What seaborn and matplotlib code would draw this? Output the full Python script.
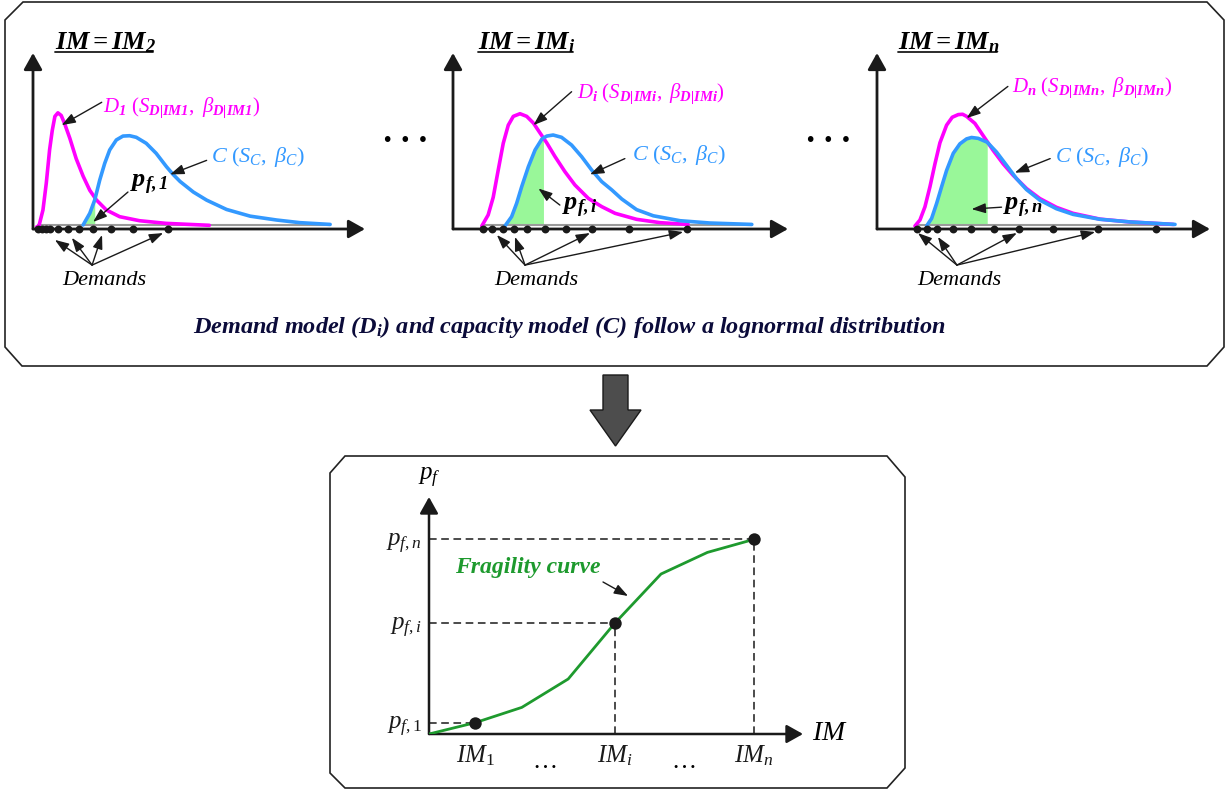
import numpy as np
import matplotlib
matplotlib.use("Agg")
import matplotlib.pyplot as plt
import seaborn as sns
from matplotlib.patches import Polygon

# ---- values (x: demand axis 0..10, y: density 0..1) ----
d1_x = [0.11, 0.18, 0.30, 0.40, 0.50, 0.58, 0.66, 0.75, 0.85, 0.95, 1.11, 1.30, 1.51, 1.71, 1.91, 2.21, 2.61, 3.21, 4.01, 5.31]
d1_y = [0.012, 0.018, 0.108, 0.26, 0.45, 0.56, 0.64, 0.66, 0.645, 0.60, 0.515, 0.40, 0.30, 0.22, 0.165, 0.108, 0.07, 0.047, 0.032, 0.021]
c1_x = [1.51, 1.71, 1.86, 2.01, 2.16, 2.31, 2.51, 2.71, 2.91, 3.11, 3.41, 3.71, 4.02, 4.22, 4.43, 4.83, 5.23, 5.83, 6.54, 7.34, 8.04, 8.95]
c1_y = [0.023, 0.089, 0.165, 0.278, 0.373, 0.449, 0.506, 0.528, 0.53, 0.521, 0.487, 0.43, 0.354, 0.31, 0.27, 0.21, 0.164, 0.111, 0.073, 0.051, 0.036, 0.026]

di_x = [0.86, 1.05, 1.20, 1.35, 1.50, 1.65, 1.80, 2.00, 2.20, 2.40, 2.60, 2.80, 3.04, 3.34, 3.64, 4.04, 4.44, 4.84, 5.48, 6.18, 7.02]
di_y = [0.017, 0.080, 0.18, 0.335, 0.487, 0.59, 0.64, 0.655, 0.64, 0.602, 0.545, 0.489, 0.413, 0.326, 0.25, 0.174, 0.127, 0.089, 0.055, 0.036, 0.026]
ci_x = [1.55, 1.75, 1.90, 2.05, 2.25, 2.45, 2.65, 2.70, 2.80, 2.99, 3.24, 3.54, 3.84, 4.14, 4.44, 4.74, 5.04, 5.48, 5.98, 6.78, 7.67, 8.92]
ci_y = [0.017, 0.070, 0.146, 0.24, 0.354, 0.449, 0.51, 0.517, 0.528, 0.534, 0.521, 0.477, 0.411, 0.335, 0.269, 0.222, 0.17, 0.11, 0.075, 0.047, 0.034, 0.026]

dn_x = [1.14, 1.29, 1.44, 1.59, 1.74, 1.89, 2.09, 2.26, 2.44, 2.57, 2.69, 2.94, 3.19, 3.49, 3.79, 4.09, 4.49, 4.89, 5.39, 5.89, 6.70, 7.60, 8.90]
dn_y = [0.017, 0.051, 0.126, 0.24, 0.37, 0.49, 0.59, 0.635, 0.65, 0.652, 0.64, 0.60, 0.53, 0.446, 0.37, 0.305, 0.23, 0.173, 0.123, 0.089, 0.056, 0.040, 0.026]
cn_x = [1.49, 1.64, 1.79, 1.94, 2.09, 2.29, 2.49, 2.69, 2.84, 3.04, 3.31, 3.59, 3.89, 4.19, 4.49, 4.89, 5.39, 5.89, 6.70, 7.60, 8.95]
cn_y = [0.017, 0.06, 0.145, 0.24, 0.333, 0.43, 0.484, 0.512, 0.52, 0.515, 0.493, 0.437, 0.362, 0.286, 0.224, 0.164, 0.115, 0.083, 0.055, 0.040, 0.026]

demands_1 = [0.15, 0.27, 0.39, 0.51, 0.75, 1.05, 1.39, 1.81, 2.35, 3.01, 4.07]
demands_i = [0.90, 1.16, 1.49, 1.82, 2.21, 2.75, 3.37, 4.15, 5.25, 6.99]
demands_n = [1.20, 1.50, 1.80, 2.28, 2.82, 3.51, 4.26, 5.29, 6.64, 8.38]
pf_edges = [1.86, 2.70, 3.31]

im_subs = ["2", "i", "n"]
case_subs = ["1", "i", "n"]

# fragility curve (IM in tick steps, pf as fraction)
frag_im = [0, 1, 2, 3, 4, 5, 6, 7]
frag_pf = [0.0, 0.057, 0.133, 0.275, 0.553, 0.80, 0.908, 0.973]
frag_marked = [1, 4, 7]
frag_ylabels = ["$p_{f,1}$", "$p_{f,i}$", "$p_{f,n}$"]
frag_xlabels = ["$IM_1$", "", "", "$IM_i$", "", "", "$IM_n$"]

# ---- style ----
sns.set_theme(style="white")
plt.rcParams["font.family"] = ["Liberation Serif", "DejaVu Sans"]
plt.rcParams["text.color"] = "black"
plt.rcParams["mathtext.fontset"] = "custom"
plt.rcParams["mathtext.rm"] = "Liberation Serif"
plt.rcParams["mathtext.it"] = "Liberation Serif:italic"
plt.rcParams["mathtext.bf"] = "Liberation Serif:italic:bold"

MAGENTA = "#ff00ff"
BLUE = "#3399ff"
FILL = "#99f799"
GREEN = "#1e9a2e"
NAVY = "#0b0b3a"
W, H = 1225, 790

fig = plt.figure(figsize=(12.25, 7.9), dpi=100)


def px_axes(x0, y0, x1, y1):
    ax = fig.add_axes([x0 / W, 1 - y1 / H, (x1 - x0) / W, (y1 - y0) / H])
    ax.set_facecolor("none")
    return ax


def axis_arrows(ax, lw=2.0, ms=20):
    style = "-|>,head_length=0.5,head_width=0.28"
    for tip in [(1, 0), (0, 1)]:
        ax.annotate("", xy=tip, xytext=(0, 0), xycoords="axes fraction",
                    arrowprops=dict(arrowstyle=style, color="k", lw=lw,
                                    shrinkA=0, shrinkB=0, mutation_scale=ms))


def small_arrow(ax, src, dst, lw=1.0):
    ax.annotate("", xy=dst, xytext=src, annotation_clip=False,
                arrowprops=dict(arrowstyle="-|>,head_length=0.7,head_width=0.25",
                                color="k", lw=lw, shrinkA=0, shrinkB=0, mutation_scale=12))


# background: frames, big arrow, notes
bg = fig.add_axes([0, 0, 1, 1])
bg.set_xlim(0, W)
bg.set_ylim(H, 0)
bg.axis("off")
bg.add_patch(Polygon([(23, 2), (1207, 2), (1224, 20), (1224, 347), (1207, 366),
                      (22, 366), (5, 347), (5, 20)], closed=True, fill=False,
                     ec="#222222", lw=1.2))
bg.add_patch(Polygon([(345, 456), (887, 456), (905, 477), (905, 768), (887, 788),
                      (345, 788), (330, 773), (330, 473)], closed=True, fill=False,
                     ec="#222222", lw=1.2))
bg.add_patch(Polygon([(603, 375), (628, 375), (628, 410), (641, 410), (615.5, 446),
                      (590, 410), (603, 410)], closed=True, fc="#4d4d4d", ec="k", lw=1))
for xc in [405, 828]:
    bg.text(xc, 140, "• • •", ha="center", va="center", fontsize=14, family="DejaVu Sans")
bg.text(569, 327, r"Demand model (D$_{\mathbf{i}}$) and capacity model (C) follow a lognormal distribution",
        ha="center", va="center", fontsize=17.5, fontweight="bold", style="italic", color=NAVY)

# ---- three demand / capacity panels ----
panel_px = [(33, 53, 365, 229), (453, 53, 788, 229), (877, 53, 1210, 229)]
curves = [(d1_x, d1_y, c1_x, c1_y), (di_x, di_y, ci_x, ci_y), (dn_x, dn_y, cn_x, cn_y)]
demands = [demands_1, demands_i, demands_n]
layout = [
    dict(tx=0.66, dl=(2.11, 0.69), da=((2.07, 0.72), (0.86, 0.59)),
         cl=(5.36, 0.41), ca=((5.23, 0.39), (4.13, 0.31)),
         pl=(2.92, 0.25), pa=((2.86, 0.21), (1.81, 0.04)),
         src=(1.78, -0.205), tgt=[(0.66, -0.062), (1.17, -0.05), (2.08, -0.034), (3.92, -0.023)],
         dt=(2.15, -0.29)),
    dict(tx=0.75, dl=(3.70, 0.77), da=((3.54, 0.78), (2.40, 0.59)),
         cl=(5.34, 0.42), ca=((5.13, 0.40), (4.09, 0.31)),
         pl=(3.25, 0.12), pa=((3.19, 0.136), (2.55, 0.23)),
         src=(2.15, -0.205), tgt=[(1.31, -0.034), (1.85, -0.045), (4.09, -0.023), (6.87, -0.017)],
         dt=(2.48, -0.29)),
    dict(tx=0.63, dl=(4.05, 0.80), da=((3.93, 0.81), (2.69, 0.63)),
         cl=(5.35, 0.41), ca=((5.20, 0.40), (4.14, 0.32)),
         pl=(3.78, 0.12), pa=((3.74, 0.124), (2.84, 0.113)),
         src=(2.40, -0.205), tgt=[(1.23, -0.023), (1.83, -0.045), (4.20, -0.023), (6.55, -0.017)],
         dt=(2.46, -0.29)),
]

titles = []
for k in range(3):
    ax = px_axes(*panel_px[k])
    ax.set_xlim(0, 10)
    ax.set_ylim(0, 1)
    ax.axis("off")
    dx, dy, cx, cy = [np.array(v) for v in curves[k]]
    L = layout[k]

    ax.fill_between(cx, 0.022, cy, where=cx <= pf_edges[k] + 1e-9, color=FILL, lw=0, zorder=1)
    ax.hlines(0.022, dx[0], cx[-1], color="#9a9a9a", lw=1.5, zorder=1)
    sns.lineplot(x=dx, y=dy, ax=ax, color=MAGENTA, lw=2.6, sort=False, zorder=3)
    sns.lineplot(x=cx, y=cy, ax=ax, color=BLUE, lw=2.6, sort=False, zorder=3)
    axis_arrows(ax)
    sns.scatterplot(x=demands[k], y=np.zeros(len(demands[k])), ax=ax, color="k",
                    s=32, linewidth=0, clip_on=False, zorder=6)

    t = ax.text(L["tx"], 1.023, r"$\mathbf{IM = IM_%s}$" % im_subs[k], fontsize=19,
                va="baseline", ha="left")
    titles.append((ax, t))

    s = case_subs[k]
    ax.text(*L["dl"], r"$D_{\mathbf{%s}}\ (S_{\mathbf{D|IM%s}},\ \beta_{\mathbf{D|IM%s}})$" % (s, s, s),
            color=MAGENTA, fontsize=15, va="center", ha="left")
    small_arrow(ax, *L["da"])
    ax.text(*L["cl"], r"$C\ (S_C,\ \beta_C)$", color=BLUE, fontsize=16, va="center", ha="left")
    small_arrow(ax, *L["ca"])
    ax.text(*L["pl"], r"$\mathbf{p_{f,%s}}$" % s, fontsize=19, va="center", ha="left")
    small_arrow(ax, *L["pa"])
    for tg in L["tgt"]:
        small_arrow(ax, L["src"], tg)
    ax.text(*L["dt"], "Demands", fontsize=16, style="italic", ha="center", va="center")

# ---- fragility curve ----
fx = px_axes(429, 497, 803, 734)
fx.set_xlim(0, 8.06)
fx.set_ylim(0, 1.185)
for sp in fx.spines.values():
    sp.set_visible(False)
axis_arrows(fx, lw=1.8, ms=20)
sns.lineplot(x=frag_im, y=frag_pf, ax=fx, color=GREEN, lw=2, zorder=4)
mx = [frag_im[i] for i in frag_marked]
my = [frag_pf[i] for i in frag_marked]
fx.hlines(my, 0, mx, colors="k", linestyles=(0, (5, 3)), lw=1.1, zorder=2)
fx.vlines(mx[1:], 0, my[1:], colors="k", linestyles=(0, (5, 3)), lw=1.1, zorder=2)
sns.scatterplot(x=mx, y=my, ax=fx, color="k", s=80, linewidth=0, clip_on=False, zorder=6)

fx.set_xticks(frag_im[1:])
fx.set_xticklabels(frag_xlabels)
fx.set_yticks(my)
fx.set_yticklabels(frag_ylabels)
fx.tick_params(axis="x", direction="inout", length=12, width=1.3, pad=1, labelsize=18, colors="k")
fx.tick_params(axis="y", direction="out", length=4, width=1.3, pad=1, labelsize=18, colors="k")
for xd in [2.5, 5.5]:
    fx.text(xd, -0.14, "…", fontsize=18, ha="center", va="center")
fx.text(0.0, 1.28, "$p_f$", fontsize=18, ha="center", va="center")
fx.text(8.25, 0.0, "$IM$", fontsize=20, ha="left", va="center")
fx.text(0.56, 0.83, "Fragility curve", fontsize=17, fontweight="bold", style="italic",
        color=GREEN, ha="left", va="center")
small_arrow(fx, (3.75, 0.76), (4.29, 0.69))

# underline the panel titles
fig.canvas.draw()
rend = fig.canvas.get_renderer()
for ax, t in titles:
    bb = t.get_window_extent(rend)
    (x0, _), (x1, _) = bg.transData.inverted().transform([(bb.x0, 0), (bb.x1, 0)])
    bg.plot([x0, x1 - 3], [52, 52], color="k", lw=1.3)

fig.savefig("out.png", dpi=100)
